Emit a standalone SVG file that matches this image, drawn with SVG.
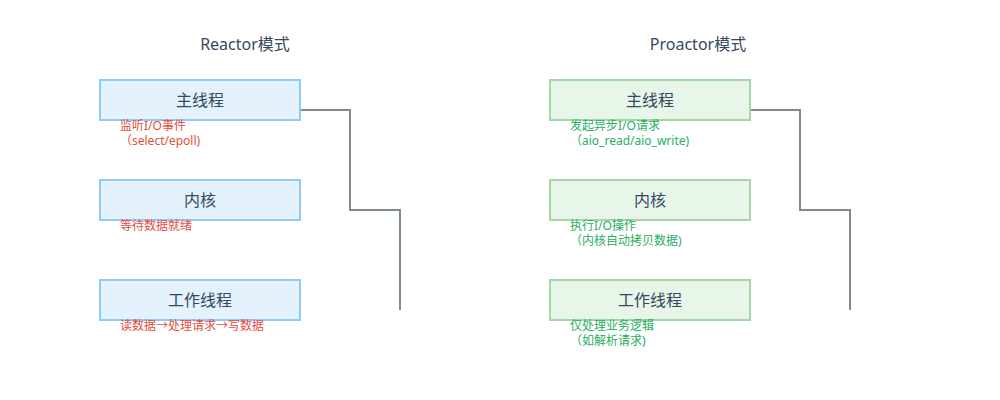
<svg xmlns="http://www.w3.org/2000/svg" width="1000" height="400" viewBox="0 0 1000 400">
<style>
text{font-family:"Noto Sans","Noto Sans CJK SC",sans-serif}
.title{font-size:16px;fill:#34495e;text-anchor:middle}
.nt{font-size:16px;fill:#34495e;text-anchor:middle}
.r rect{fill:#e3f2fd;stroke:#90caf9;stroke-width:2}
.p rect{fill:#e8f5e9;stroke:#a5d6a7;stroke-width:2}
.lr{font-size:12px;fill:#e74c3c}
.lg{font-size:12px;fill:#27ae60}
.conn{fill:none;stroke:#7f8c8d;stroke-width:2}
</style>
<rect width="1000" height="400" fill="#ffffff"/>
<text class="title" x="245" y="50">Reactor模式</text>
<text class="title" x="698" y="50">Proactor模式</text>
<g id="connectors">
<polyline class="conn" points="300,110 350,110 350,210 400,210 400,310"/>
<polyline class="conn" points="750,110 800,110 800,210 850,210 850,310"/>
</g>
<g id="r-main" class="r"><rect x="100" y="80" width="200" height="40"/><text class="nt" x="200" y="106">主线程</text>
<text class="lr" x="120" y="130">监听I/O事件</text><text class="lr" x="120" y="145">（select/epoll)</text></g>
<g id="r-kernel" class="r"><rect x="100" y="180" width="200" height="40"/><text class="nt" x="200" y="206">内核</text>
<text class="lr" x="120" y="230">等待数据就绪</text></g>
<g id="r-worker" class="r"><rect x="100" y="280" width="200" height="40"/><text class="nt" x="200" y="306">工作线程</text>
<text class="lr" x="120" y="330">读数据→处理请求→写数据</text></g>
<g id="p-main" class="p"><rect x="550" y="80" width="200" height="40"/><text class="nt" x="650" y="106">主线程</text>
<text class="lg" x="570" y="130">发起异步I/O请求</text><text class="lg" x="570" y="145">（aio_read/aio_write)</text></g>
<g id="p-kernel" class="p"><rect x="550" y="180" width="200" height="40"/><text class="nt" x="650" y="206">内核</text>
<text class="lg" x="570" y="230">执行I/O操作</text><text class="lg" x="570" y="245">（内核自动拷贝数据)</text></g>
<g id="p-worker" class="p"><rect x="550" y="280" width="200" height="40"/><text class="nt" x="650" y="306">工作线程</text>
<text class="lg" x="570" y="330">仅处理业务逻辑</text><text class="lg" x="570" y="345">（如解析请求)</text></g>
</svg>
